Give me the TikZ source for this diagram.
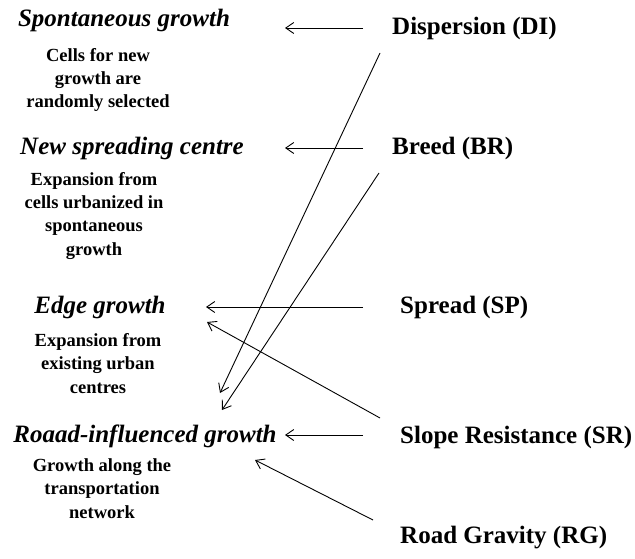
\documentclass[tikz,border=0pt]{standalone}
\usepackage{fontspec}
\setmainfont{Liberation Serif}
\usetikzlibrary{arrows.meta}
\tikzset{
  title/.style={font=\fontsize{25}{28}\selectfont\bfseries\itshape, inner sep=0pt, anchor=base},
  body/.style={font=\fontsize{18.5}{23.3}\selectfont\bfseries, align=center, inner sep=0pt, anchor=base},
  param/.style={font=\fontsize{25}{28}\selectfont\bfseries, inner sep=0pt, anchor=base west},
  conn/.style={line width=0.9pt, -{Straight Barb[length=8pt,width=11pt,line width=0.9pt]}}
}
\begin{document}
\begin{tikzpicture}[x=1pt,y=-1pt]
\useasboundingbox (0,0) rectangle (635,559);
% left titles
\node[title] (sg) at (124,27) {Spontaneous growth};
\node[body] (sgb) at (98,108) {Cells for new\\growth are\\randomly selected};
\node[title] (ns) at (132,155) {New spreading centre};
\node[body] (nsb) at (94,255) {Expansion from\\cells urbanized in\\spontaneous\\growth};
\node[title] (eg) at (100,313) {Edge growth};
\node[body] (egb) at (98,393) {Expansion from\\existing urban\\centres};
\node[title] (rg) at (145,442) {Roaad-influenced growth};
\node[body] (rgb) at (102,518) {Growth along the\\transportation\\network};
% right parameters
\node[param] (di) at (392,35) {Dispersion (DI)};
\node[param] (br) at (392,155) {Breed (BR)};
\node[param] (sp) at (400,313) {Spread (SP)};
\node[param] (sr) at (400,443) {Slope Resistance (SR)};
\node[param] (rd) at (400,543) {Road Gravity (RG)};
% connector end points
\coordinate (di1) at (363,28);   \coordinate (sg1) at (285,28);
\coordinate (br1) at (363,148);  \coordinate (ns1) at (285,148);
\coordinate (sp1) at (363,307);  \coordinate (eg1) at (206,307);
\coordinate (sr2) at (380,418);  \coordinate (eg2) at (207,322);
\coordinate (sr1) at (363,435);  \coordinate (rg1) at (285,435);
\coordinate (rd1) at (373,520);  \coordinate (rg2) at (255,460);
\coordinate (di2) at (380,53);   \coordinate (rg3) at (220,393);
\coordinate (br2) at (379,173);  \coordinate (rg4) at (222,410);
\draw[conn] (di1) -- (sg1);
\draw[conn] (br1) -- (ns1);
\draw[conn] (sp1) -- (eg1);
\draw[conn] (sr2) -- (eg2);
\draw[conn] (sr1) -- (rg1);
\draw[conn] (rd1) -- (rg2);
\draw[conn] (di2) -- (rg3);
\draw[conn] (br2) -- (rg4);
\end{tikzpicture}
\end{document}
